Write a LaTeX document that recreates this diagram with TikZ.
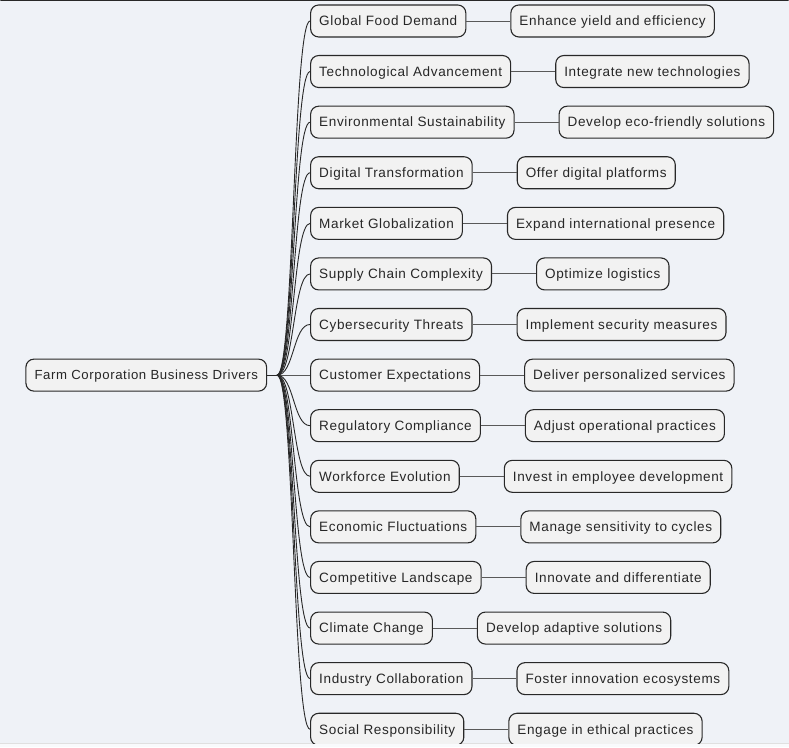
\documentclass[tikz,border=0pt]{standalone}
\usepackage{fontspec}
\setmainfont{Liberation Sans}[LetterSpace=4.6]
\usepackage{tikz}
\usetikzlibrary{positioning}
\definecolor{bgcol}{RGB}{239,242,247}
\definecolor{boxcol}{RGB}{242,242,242}
\definecolor{edgecol}{RGB}{40,40,40}

\begin{document}
\begin{tikzpicture}[x=1pt, y=-1pt,
    every node/.style={font=\fontsize{13.55}{15}\selectfont, text=black!85},
    box/.style={draw=edgecol, fill=boxcol, line width=1.1pt, rounded corners=8pt,
        minimum height=32pt, text height=11.5pt, text depth=2pt,
        inner xsep=8.6pt, inner ysep=0pt, anchor=west},
    leaf/.style={box, right=44pt of #1},
    link/.style={draw=edgecol, line width=0.9pt},
    leaflink/.style={draw=black!65, line width=0.9pt}]
    % background and frame
    \fill[bgcol] (0,0) rectangle (789,744);
    \fill[white!60!bgcol] (0,744) rectangle (789,748);
    \draw[black!12, line width=0.8pt] (0,744) -- (789,744);
    \useasboundingbox (0,0) rectangle (789,748);
    \clip (0,0) rectangle (789,744);

    % root
    \node[box, font=\fontsize{13.2}{15}\selectfont] (root) at (25,375.5) {Farm Corporation Business Drivers};
    \coordinate (hub) at (277,375.5);

    % drivers
    \node[box] (demand) at (310,21) {Global Food Demand};
    \node[box] (tech) at (310,71.6) {Technological Advancement};
    \node[box] (sustain) at (310,122.3) {Environmental Sustainability};
    \node[box] (digital) at (310,172.9) {Digital Transformation};
    \node[box] (market) at (310,223.6) {Market Globalization};
    \node[box] (supply) at (310,274.2) {Supply Chain Complexity};
    \node[box] (cyber) at (310,324.8) {Cybersecurity Threats};
    \node[box] (customer) at (310,375.5) {Customer Expectations};
    \node[box] (regul) at (310,426.1) {Regulatory Compliance};
    \node[box] (workforce) at (310,476.8) {Workforce Evolution};
    \node[box] (economic) at (310,527.4) {Economic Fluctuations};
    \node[box] (compet) at (310,578) {Competitive Landscape};
    \node[box] (climate) at (310,628.7) {Climate Change};
    \node[box] (industry) at (310,679.3) {Industry Collaboration};
    \node[box] (social) at (310,730) {Social Responsibility};

    % responses
    \node[leaf=demand] (demandR) {Enhance yield and efficiency};
    \node[leaf=tech] (techR) {Integrate new technologies};
    \node[leaf=sustain] (sustainR) {Develop eco-friendly solutions};
    \node[leaf=digital] (digitalR) {Offer digital platforms};
    \node[leaf=market] (marketR) {Expand international presence};
    \node[leaf=supply] (supplyR) {Optimize logistics};
    \node[leaf=cyber] (cyberR) {Implement security measures};
    \node[leaf=customer] (customerR) {Deliver personalized services};
    \node[leaf=regul] (regulR) {Adjust operational practices};
    \node[leaf=workforce] (workforceR) {Invest in employee development};
    \node[leaf=economic] (economicR) {Manage sensitivity to cycles};
    \node[leaf=compet] (competR) {Innovate and differentiate};
    \node[leaf=climate] (climateR) {Develop adaptive solutions};
    \node[leaf=industry] (industryR) {Foster innovation ecosystems};
    \node[leaf=social] (socialR) {Engage in ethical practices};

    % root to drivers
    \draw[link] (root.east) -- (hub);
    \draw[link] (hub) .. controls +(17,0) and +(-17,0) .. (demand.west);
    \draw[link] (hub) .. controls +(17,0) and +(-17,0) .. (tech.west);
    \draw[link] (hub) .. controls +(17,0) and +(-17,0) .. (sustain.west);
    \draw[link] (hub) .. controls +(17,0) and +(-17,0) .. (digital.west);
    \draw[link] (hub) .. controls +(17,0) and +(-17,0) .. (market.west);
    \draw[link] (hub) .. controls +(17,0) and +(-17,0) .. (supply.west);
    \draw[link] (hub) .. controls +(17,0) and +(-17,0) .. (cyber.west);
    \draw[leaflink] (hub) -- (customer.west);
    \draw[link] (hub) .. controls +(17,0) and +(-17,0) .. (regul.west);
    \draw[link] (hub) .. controls +(17,0) and +(-17,0) .. (workforce.west);
    \draw[link] (hub) .. controls +(17,0) and +(-17,0) .. (economic.west);
    \draw[link] (hub) .. controls +(17,0) and +(-17,0) .. (compet.west);
    \draw[link] (hub) .. controls +(17,0) and +(-17,0) .. (climate.west);
    \draw[link] (hub) .. controls +(17,0) and +(-17,0) .. (industry.west);
    \draw[link] (hub) .. controls +(17,0) and +(-17,0) .. (social.west);

    % drivers to responses
    \draw[leaflink] (demand) -- (demandR);
    \draw[leaflink] (tech) -- (techR);
    \draw[leaflink] (sustain) -- (sustainR);
    \draw[leaflink] (digital) -- (digitalR);
    \draw[leaflink] (market) -- (marketR);
    \draw[leaflink] (supply) -- (supplyR);
    \draw[leaflink] (cyber) -- (cyberR);
    \draw[leaflink] (customer) -- (customerR);
    \draw[leaflink] (regul) -- (regulR);
    \draw[leaflink] (workforce) -- (workforceR);
    \draw[leaflink] (economic) -- (economicR);
    \draw[leaflink] (compet) -- (competR);
    \draw[leaflink] (climate) -- (climateR);
    \draw[leaflink] (industry) -- (industryR);
    \draw[leaflink] (social) -- (socialR);

    % frame top
    \draw[edgecol, line width=2pt] (0,0) -- (789,0);
\end{tikzpicture}
\end{document}
